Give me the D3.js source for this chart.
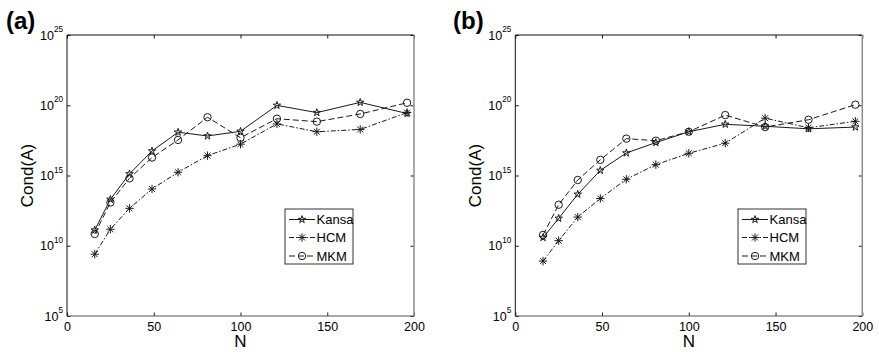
<!DOCTYPE html>
<html>
<head>
<meta charset="utf-8">
<script src="https://cdn.jsdelivr.net/npm/d3@7"></script>
<style>
  body { margin: 0; background: #fff; }
  svg { display: block; }
  text { font-family: "Liberation Sans", Arial, Helvetica, sans-serif; fill: #000; }
</style>
</head>
<body>
<svg id="chart" width="879" height="352"></svg>
<script>
// Number of nodes
const N = [16, 25, 36, 49, 64, 81, 100, 121, 144, 169, 196];

// Condition numbers, panel (a)
const kansaA = [1.3e11, 2.0e13, 1.3e15, 5.5e16, 1.2e18, 6.5e17, 1.4e18, 9.8e19, 3.0e19, 1.6e20, 2.6e19];
const hcmA   = [2.5e9, 1.5e11, 4.6e12, 1.1e14, 1.7e15, 2.6e16, 1.7e17, 4.7e18, 1.3e18, 1.9e18, 3.0e19];
const mkmA   = [6.9e10, 1.2e13, 6.3e14, 1.9e16, 3.4e17, 1.4e19, 4.9e17, 1.1e19, 6.8e18, 2.4e19, 1.5e20];

// Condition numbers, panel (b)
const kansaB = [3.8e10, 8.9e11, 4.6e13, 2.3e15, 4.0e16, 2.2e17, 1.3e18, 4.4e18, 3.2e18, 2.1e18, 2.8e18];
const hcmB   = [8.1e8, 2.3e10, 1.1e12, 2.3e13, 5.4e14, 5.9e15, 3.8e16, 2.0e17, 1.2e19, 2.5e18, 7.2e18];
const mkmB   = [5.9e10, 8.3e12, 4.8e14, 1.3e16, 4.2e17, 3.0e17, 1.3e18, 2.0e19, 2.8e18, 9.3e18, 1.1e20];

const seriesNames = ["Kansa", "HCM", "MKM"];
const panelTags = ["(a)", "(b)"];
const xTicks = [0, 50, 100, 150, 200];
const yTicks = [1e5, 1e10, 1e15, 1e20, 1e25];
const xLabel = "N";
const yLabel = "Cond(A)";

const svg = d3.select("#chart");
const plotTop = 35, plotBottom = 316;
const ink = "#1a1a1a";

// MATLAB-style '*' marker: plus and cross overlaid
const asterisk = {
  draw(ctx, size) {
    const r = Math.sqrt(size) / 2, d = r * Math.SQRT1_2;
    ctx.moveTo(-r, 0); ctx.lineTo(r, 0);
    ctx.moveTo(0, -r); ctx.lineTo(0, r);
    ctx.moveTo(-d, -d); ctx.lineTo(d, d);
    ctx.moveTo(-d, d); ctx.lineTo(d, -d);
  }
};

const styles = [
  { dash: null,          symbol: d3.symbol(d3.symbolStar, 17) },
  { dash: "5,2,1.5,2",   symbol: d3.symbol(asterisk, 70) },
  { dash: "6,3",         symbol: d3.symbol(d3.symbolCircle, 43) }
];

const panels = [
  { tag: panelTags[0], data: [kansaA, hcmA, mkmA], left: 67,    right: 414,   tagX: 6,   legendX: 285 },
  { tag: panelTags[1], data: [kansaB, hcmB, mkmB], left: 515.3, right: 862.3, tagX: 453, legendX: 738 }
];

panels.forEach(p => {
  const x = d3.scaleLinear().domain([0, 200]).range([p.left, p.right]);
  const y = d3.scaleLog().domain([1e5, 1e25]).range([plotBottom, plotTop]);
  const g = svg.append("g");

  // Axes with inward ticks on all four sides
  const bottomAxis = g.append("g").attr("transform", `translate(0,${plotBottom})`)
    .call(d3.axisBottom(x).tickValues(xTicks).tickSize(-3.5).tickPadding(5.8));
  bottomAxis.selectAll("text").attr("font-size", 12.5);

  g.append("g").attr("transform", `translate(0,${plotTop})`)
    .call(d3.axisTop(x).tickValues(xTicks).tickSize(-3.5).tickFormat(""));

  const leftAxis = g.append("g").attr("transform", `translate(${p.left},0)`)
    .call(d3.axisLeft(y).tickValues(yTicks).tickSize(-3.5).tickPadding(4).tickFormat(""));
  leftAxis.selectAll(".tick text").each(function (d) {
    const t = d3.select(this).attr("font-size", 12.5);
    t.append("tspan").text("10");
    t.append("tspan").attr("dy", -7.5).attr("font-size", 8.2).text(Math.round(Math.log10(d)));
  });

  g.append("g").attr("transform", `translate(${p.right},0)`)
    .call(d3.axisRight(y).tickValues(yTicks).tickSize(-3.5).tickFormat(""));

  g.selectAll(".domain").remove();
  g.selectAll(".tick line").attr("stroke", ink);

  // Frame
  g.append("line").attr("x1", p.left).attr("x2", p.right).attr("y1", plotTop).attr("y2", plotTop)
    .attr("stroke", "#111").attr("stroke-width", 1);
  g.append("line").attr("x1", p.left).attr("x2", p.left).attr("y1", plotTop).attr("y2", plotBottom)
    .attr("stroke", "#111").attr("stroke-width", 1);
  g.append("line").attr("x1", p.left).attr("x2", p.right).attr("y1", plotBottom).attr("y2", plotBottom)
    .attr("stroke", "#555").attr("stroke-width", 1);
  g.append("line").attr("x1", p.right).attr("x2", p.right).attr("y1", plotTop).attr("y2", plotBottom)
    .attr("stroke", "#8c8c8c").attr("stroke-width", 1.5);

  // Series lines and markers
  const line = d3.line().x(d => x(d[0])).y(d => y(d[1]));
  p.data.forEach((vals, i) => {
    const pts = N.map((n, j) => [n, vals[j]]);
    g.append("path").attr("d", line(pts)).attr("fill", "none")
      .attr("stroke", ink).attr("stroke-width", 1)
      .attr("stroke-dasharray", styles[i].dash);
    g.selectAll(null).data(pts).enter().append("path")
      .attr("transform", d => `translate(${x(d[0])},${y(d[1])})`)
      .attr("d", styles[i].symbol)
      .attr("fill", "none").attr("stroke", ink).attr("stroke-width", 1);
  });

  // Axis titles
  g.append("text").attr("x", (p.left + p.right) / 2).attr("y", 347)
    .attr("text-anchor", "middle").attr("font-size", 17).text(xLabel);
  g.append("text").attr("transform", `translate(${p.left - 34},${(plotTop + plotBottom) / 2}) rotate(-90)`)
    .attr("text-anchor", "middle").attr("font-size", 17).text(yLabel);

  // Panel tag
  g.append("text").attr("x", p.tagX).attr("y", 29).attr("font-size", 24)
    .attr("font-weight", "bold").text(p.tag);

  // Legend
  const lx = p.legendX, ly = 209;
  const lg = g.append("g").attr("transform", `translate(${lx},${ly})`);
  lg.append("rect").attr("width", 68).attr("height", 55)
    .attr("fill", "#fff").attr("stroke", "#333").attr("stroke-width", 1);
  const rowsY = [10.5, 28.5, 47];
  seriesNames.forEach((name, i) => {
    const ry = rowsY[i];
    lg.append("line").attr("x1", 4).attr("x2", 30).attr("y1", ry).attr("y2", ry)
      .attr("stroke", ink).attr("stroke-width", 1).attr("stroke-dasharray", styles[i].dash);
    lg.append("path").attr("transform", `translate(17,${ry})`).attr("d", styles[i].symbol)
      .attr("fill", "none").attr("stroke", ink).attr("stroke-width", 1);
    lg.append("text").attr("x", 31.5).attr("y", ry + 4.6).attr("font-size", 13).text(name);
  });
});
</script>
</body>
</html>
